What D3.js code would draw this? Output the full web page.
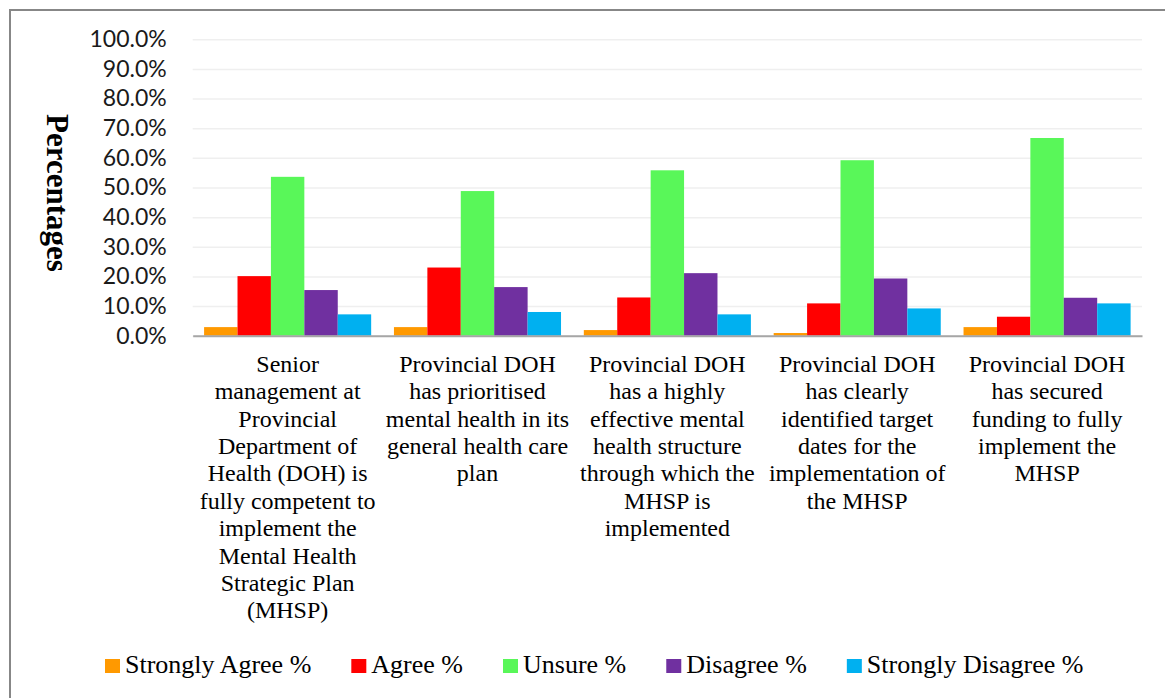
<!DOCTYPE html>
<html>
<head>
<meta charset="utf-8">
<script src="https://cdn.jsdelivr.net/npm/d3@7"></script>
<style>
  html, body { margin: 0; padding: 0; background: #fff; }
  svg { display: block; }
</style>
</head>
<body>
<svg id="chart" width="1165" height="698"></svg>
<script>
// ---- data ----
const categories = [
  ["Senior", "management at", "Provincial", "Department of", "Health (DOH) is", "fully competent to", "implement the", "Mental Health", "Strategic Plan", "(MHSP)"],
  ["Provincial DOH", "has prioritised", "mental health in its", "general health care", "plan"],
  ["Provincial DOH", "has a highly", "effective mental", "health structure", "through which the", "MHSP is", "implemented"],
  ["Provincial DOH", "has clearly", "identified target", "dates for the", "implementation of", "the MHSP"],
  ["Provincial DOH", "has secured", "funding to fully", "implement the", "MHSP"]
];
const seriesNames = ["Strongly Agree %", "Agree %", "Unsure %", "Disagree %", "Strongly Disagree %"];
const stronglyAgree    = [2.9, 2.9, 1.9, 0.9, 2.9];
const agree            = [20.1, 23.0, 12.9, 10.9, 6.4];
const unsure           = [53.6, 48.8, 55.8, 59.2, 66.7];
const disagree         = [15.4, 16.4, 21.1, 19.3, 12.8];
const stronglyDisagree = [7.2, 8.0, 7.2, 9.2, 10.9];
const yTicks = [0, 10, 20, 30, 40, 50, 60, 70, 80, 90, 100];
const yTitle = "Percentages";

const seriesValues = [stronglyAgree, agree, unsure, disagree, stronglyDisagree];
const colors = ["#FF9900", "#FF0000", "#59F759", "#7030A0", "#00B0F0"];

// ---- layout ----
const svg = d3.select("#chart");
const plot = { left: 192.7, right: 1142, top: 39.3, bottom: 335.7 };
const serif = "'Liberation Serif', 'Times New Roman', Tinos, serif";

const x0 = d3.scaleBand()
  .domain(d3.range(categories.length))
  .range([plot.left, plot.right])
  .paddingInner(0.12)
  .paddingOuter(0.06);
const x1 = d3.scaleBand()
  .domain(d3.range(seriesNames.length))
  .range([0, x0.bandwidth()]);
const y = d3.scaleLinear().domain([0, 100]).range([plot.bottom, plot.top]);

// frame
svg.append("path")
  .attr("d", "M10,698 L10,10 L1165,10")
  .attr("fill", "none")
  .attr("stroke", "#878787")
  .attr("stroke-width", 2);

// gridlines + y tick labels
const yAxis = d3.axisLeft(y)
  .tickValues(yTicks)
  .tickSize(-(plot.right - plot.left))
  .tickPadding(26)
  .tickFormat(d => d.toFixed(1) + "%");
const gy = svg.append("g")
  .attr("transform", `translate(${plot.left},0)`)
  .call(yAxis);
gy.select(".domain").remove();
gy.selectAll(".tick line")
  .attr("stroke", "#EFEFEF")
  .attr("stroke-width", 1.5);
gy.selectAll(".tick text")
  .attr("font-family", "Lato, 'Open Sans', sans-serif")
  .attr("font-size", 23)
  .attr("fill", "#1a1a1a");

// bars
const groups = svg.append("g").selectAll("g")
  .data(categories)
  .join("g")
  .attr("transform", (d, i) => `translate(${x0(i)},0)`);
groups.selectAll("rect")
  .data((d, i) => seriesValues.map((s, k) => ({ k, v: s[i] })))
  .join("rect")
  .attr("x", d => x1(d.k))
  .attr("width", x1.bandwidth())
  .attr("y", d => y(d.v))
  .attr("height", d => y(0) - y(d.v))
  .attr("fill", d => colors[d.k]);

// x axis line
const xAxis = d3.axisBottom(x0).tickSize(0).tickFormat("");
const gx = svg.append("g")
  .attr("transform", `translate(0,${plot.bottom})`)
  .call(xAxis);
gx.select(".domain").attr("stroke", "#A6A6A6").attr("stroke-width", 2);

// category labels
const lineH = 27.4;
const labels = svg.append("g")
  .style("font-family", serif)
  .attr("font-size", 24)
  .attr("fill", "#000")
  .attr("text-anchor", "middle");
categories.forEach((lines, i) => {
  const t = labels.append("text")
    .attr("x", x0(i) + x0.bandwidth() / 2)
    .attr("y", 371.7);
  lines.forEach((ln, j) => {
    t.append("tspan")
      .attr("x", x0(i) + x0.bandwidth() / 2)
      .attr("dy", j === 0 ? 0 : lineH)
      .text(ln);
  });
});

// y title
svg.append("text")
  .attr("transform", "translate(57,193) rotate(90)")
  .attr("text-anchor", "middle")
  .attr("dominant-baseline", "central")
  .style("font-family", serif)
  .attr("font-weight", "bold")
  .attr("font-size", 31)
  .attr("fill", "#000")
  .text(yTitle);

// legend
const legend = svg.append("g")
  .style("font-family", serif)
  .attr("font-size", 26)
  .attr("fill", "#000");
let lx = 105;
seriesNames.forEach((name, k) => {
  legend.append("rect")
    .attr("x", lx).attr("y", 659)
    .attr("width", 15).attr("height", 14)
    .attr("fill", colors[k]);
  const t = legend.append("text")
    .attr("x", lx + 20).attr("y", 673)
    .text(name);
  lx += 20 + t.node().getComputedTextLength() + 40;
});
</script>
</body>
</html>
